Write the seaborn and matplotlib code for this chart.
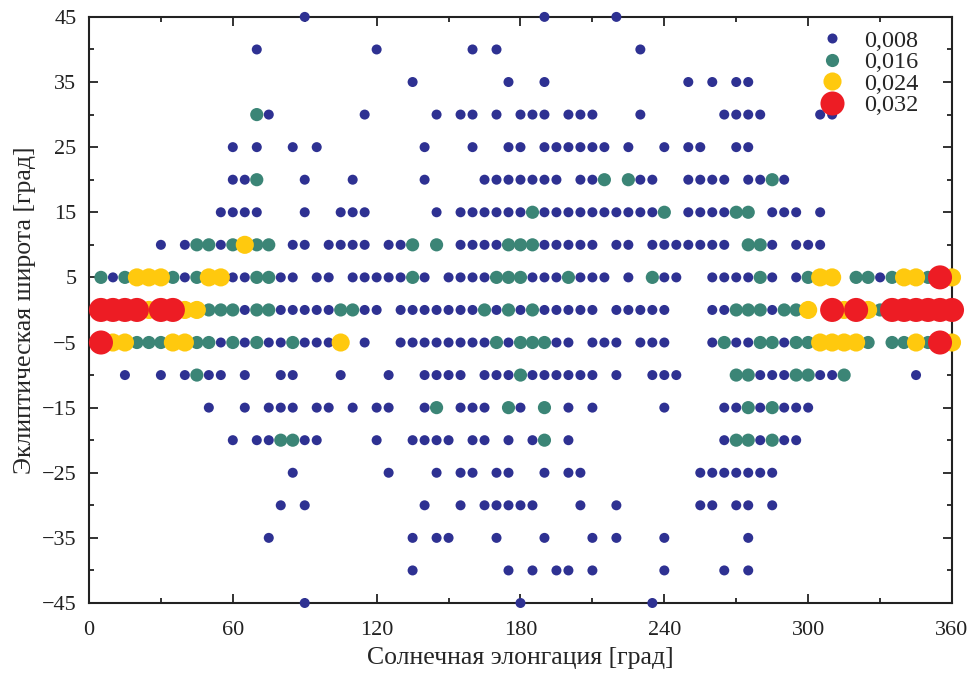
import matplotlib
matplotlib.use("Agg")
import matplotlib.pyplot as plt
from matplotlib.lines import Line2D
from matplotlib.ticker import MultipleLocator
import seaborn as sns
import pandas as pd

# value classes (navy points are plain ints in the rows below)
N, G, Y, R = 0.008, 0.016, 0.024, 0.032
LABELS = {N: "0,008", G: "0,016", Y: "0,024", R: "0,032"}
COLORS = {"0,008": "#2E3192", "0,016": "#3B8576", "0,024": "#FFC90E", "0,032": "#ED1C24"}
SIZES = {"0,008": 52, "0,016": 90, "0,024": 170, "0,032": 300}

# one list per ecliptic latitude row: longitude, or (longitude, value)
lat_p45 = [90, 190, 220]
lat_p40 = [70, 120, 160, 170, 230]
lat_p35 = [135, 175, 190, 250, 260, 270, 275]
lat_p30 = [(70, G), 75, 115, 145, 155, 160, 170, 180, 185, 190, 200, 205, 210, 230,
           265, 270, 275, 280, 305, 310]
lat_p25 = [60, 70, 85, 95, 140, 160, 175, 180, 190, 195, 200, 205, 210, 215, 225, 240,
           250, 255, 270, 275]
lat_p20 = [60, 65, (70, G), 90, 110, 140, 165, 170, 175, 180, 185, 190, 195, 205, 210,
           (215, G), (225, G), 230, 235, 250, 255, 260, 265, 275, 280, (285, G), 290]
lat_p15 = [55, 60, 65, 70, 90, 105, 110, 115, 145, 155, 160, 165, 170, 175, 180, (185, G),
           190, 195, 200, 205, 210, 215, 220, 225, 230, 235, (240, G), 250, 255, 260, 265,
           (270, G), (275, G), 285, 290, 295, 305]
lat_p10 = [30, 40, (45, G), (50, G), 55, (60, G), (65, Y), (70, G), (75, G), 85, 90, 100,
           105, 110, 115, 125, 130, (135, G), (145, G), 155, 160, 165, 170, (175, G),
           (180, G), (185, G), 190, 195, 200, 205, 210, 220, 225, 235, 240, 245, 250, 255,
           260, 265, (275, G), (280, G), 285, 295, 300, 305]
lat_p05 = [(5, G), 10, (15, G), (20, Y), (25, Y), (30, Y), (35, G), 40, (45, G), (50, Y),
           (55, Y), 60, 65, (70, G), (75, G), 80, 85, 95, 100, 110, 115, 120, 125, 130,
           (135, G), 140, 150, 155, 160, 165, (170, G), (175, G), (180, G), 185, 190, 195,
           (200, G), 205, 210, 215, 225, (235, G), 240, 245, 260, 265, 270, 275, (280, G),
           285, 295, (300, G), (305, Y), (310, Y), (320, G), (325, G), 330, (335, G),
           (340, Y), (345, Y), (350, G), (355, R), (360, Y)]
lat_0 = [(5, R), (10, R), (15, R), (20, R), (25, Y), (30, R), (35, R), (40, Y), (45, Y),
         (50, G), (55, G), (60, G), 65, (70, G), (75, G), 80, 85, 90, 95, 100, (105, G),
         (110, G), 115, 120, 130, 135, 140, 145, 150, 155, 160, (165, G), 170, (175, G),
         180, (185, G), 190, 195, 200, 205, 210, 220, 225, 230, 235, 240, 260, 265,
         (270, G), (275, G), (280, G), 285, (290, G), (295, G), (300, Y), (310, R),
         (315, Y), (320, R), (325, Y), (330, G), (335, R), (340, R), (345, R), (350, R),
         (355, R), (360, R)]
lat_m05 = [(5, R), (10, Y), (15, Y), (20, G), (25, G), (30, G), (35, Y), (40, Y), (45, G),
           (50, G), 55, (60, G), 65, (70, G), 75, 80, (85, G), 90, 95, 100, (105, Y), 115,
           130, 135, 140, 145, 150, 155, 160, 165, (170, G), 175, (180, G), (185, G),
           (190, G), 195, 200, 210, 215, 220, 230, 235, 240, 260, (265, G), 270, 275,
           (280, G), (285, G), 290, (295, G), (300, G), (305, Y), (310, Y), (315, Y),
           (320, Y), (325, G), (335, G), (340, G), (345, Y), (350, G), (355, R), (360, Y)]
lat_m10 = [15, 30, 40, (45, G), 50, 55, 65, 80, 85, 105, 125, 140, 145, 150, 155, 165, 170,
           175, (180, G), 185, 190, 195, 200, 205, 210, 220, 235, 240, 245, (270, G),
           (275, G), 280, 285, 290, (295, G), (300, G), 305, 310, (315, G), 345]
lat_m15 = [50, 65, 75, 80, 85, 95, 100, 110, 120, 125, 140, (145, G), 155, 160, 165,
           (175, G), 180, (190, G), 200, 210, 240, 265, 270, (275, G), 280, (285, G), 290,
           295, 300]
lat_m20 = [60, 70, 75, (80, G), (85, G), 90, 95, 120, 135, 140, 145, 150, 160, 165, 175,
           185, (190, G), 200, 265, (270, G), (275, G), 280, (285, G), 290, 295]
lat_m25 = [85, 125, 145, 155, 160, 170, 175, 190, 200, 205, 255, 260, 265, 270, 275, 280, 285]
lat_m30 = [80, 90, 140, 155, 165, 170, 175, 180, 185, 205, 220, 255, 260, 270, 275, 285]
lat_m35 = [75, 135, 145, 150, 170, 190, 210, 220, 240, 275]
lat_m40 = [135, 175, 185, 195, 200, 210, 240, 265, 275]
lat_m45 = [90, 180, 235]

ROWS = {45: lat_p45, 40: lat_p40, 35: lat_p35, 30: lat_p30, 25: lat_p25, 20: lat_p20,
        15: lat_p15, 10: lat_p10, 5: lat_p05, 0: lat_0, -5: lat_m05, -10: lat_m10,
        -15: lat_m15, -20: lat_m20, -25: lat_m25, -30: lat_m30, -35: lat_m35,
        -40: lat_m40, -45: lat_m45}

recs = []
for lat, row in ROWS.items():
    for p in row:
        lon, v = (p, N) if isinstance(p, int) else p
        recs.append({"lon": lon, "lat": lat, "val": v, "label": LABELS[v]})
df = pd.DataFrame(recs).sort_values("val", kind="stable")

sns.set_theme(style="ticks")
plt.rcParams["font.family"] = ["Liberation Serif", "DejaVu Serif"]

fig, ax = plt.subplots(figsize=(9.67, 6.76), dpi=100)
fig.subplots_adjust(left=0.092, right=0.9845, top=0.975, bottom=0.108)

sns.scatterplot(data=df, x="lon", y="lat", hue="label", size="label",
                palette=COLORS, sizes=SIZES, hue_order=list(COLORS),
                size_order=list(COLORS), linewidth=0, legend=False,
                ax=ax, clip_on=False, zorder=3)

ax.set_xlim(0, 360)
ax.set_ylim(-45, 45)
ax.xaxis.set_major_locator(MultipleLocator(60))
ax.xaxis.set_minor_locator(MultipleLocator(30))
ax.set_yticks(range(-45, 46, 10))
ax.set_yticks(range(-40, 41, 10), minor=True)
ax.tick_params(which="both", direction="in", top=True, right=True, width=1.3,
               labelsize=16, colors="#222222")
ax.tick_params(which="major", length=6.5)
ax.tick_params(which="minor", length=3.5)
ax.tick_params(axis="x", which="major", pad=13)
ax.tick_params(axis="y", which="major", pad=9)
for s in ax.spines.values():
    s.set_linewidth(1.5)
    s.set_color("#222222")

ax.set_xlabel("Солнечная элонгация [град]", fontsize=18.5, labelpad=5)
ax.set_ylabel("Эклиптическая широта [град]", fontsize=18.5, labelpad=4)

handles = [Line2D([], [], marker="o", ls="", color=COLORS[k], mec="none",
                  markersize=SIZES[k] ** 0.5) for k in COLORS]
ax.legend(handles, list(COLORS), loc="upper right", bbox_to_anchor=(0.972, 0.995),
          frameon=False, fontsize=17.5, handletextpad=0.3, labelspacing=-0.02,
          borderaxespad=0)

plt.savefig("out.png", dpi=100)
plt.close()
